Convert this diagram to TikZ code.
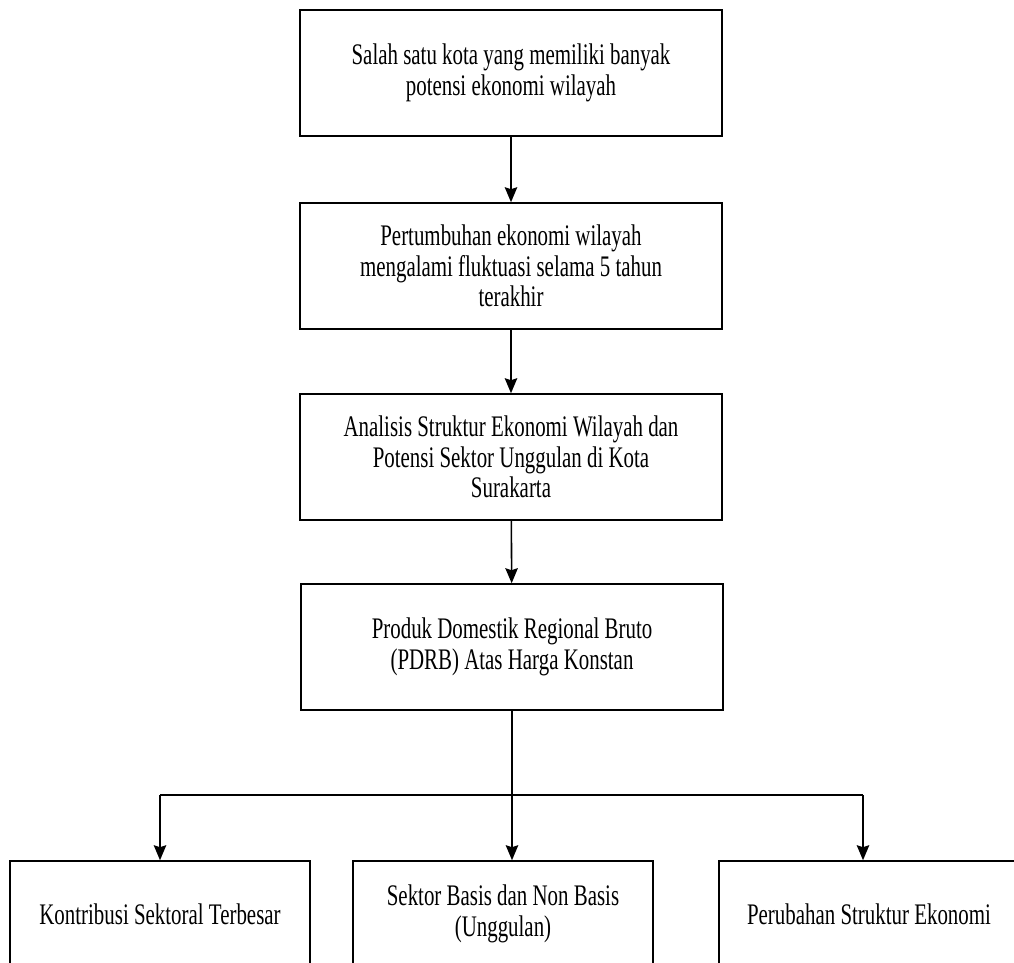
\documentclass[tikz,border=0pt]{standalone}
\usepackage{fontspec}
\setmainfont{Liberation Serif}[FakeStretch=0.7]
\usepackage{tikz}
\usetikzlibrary{arrows.meta}

\begin{document}
\begin{tikzpicture}[x=0.02cm, y=-0.02cm,
  kotak/.style={draw, line width=0.9pt, align=center, inner sep=0pt,
    font=\fontsize{17}{17.5}\selectfont},
  kotakatas/.style={kotak, minimum width=8.44cm, minimum height=2.52cm},
  kotakbawah/.style={kotak, minimum width=6cm, minimum height=2.12cm},
  garis/.style={line width=0.9pt},
  alur/.style={garis, -{Stealth[length=0.3cm,width=0.25cm,inset=0.04cm]}}]
\useasboundingbox (0,0) rectangle (1014,963);
\node [kotakatas] (potensi) at (511,73) {Salah satu kota yang memiliki banyak\\potensi ekonomi wilayah};
\node [kotakatas] (tumbuh) at (511,266) {Pertumbuhan ekonomi wilayah\\mengalami fluktuasi selama 5 tahun\\terakhir};
\node [kotakatas] (analisis) at (511,457) {Analisis Struktur Ekonomi Wilayah dan\\Potensi Sektor Unggulan di Kota\\Surakarta};
\node [kotakatas] (pdrb) at (512,647) {Produk Domestik Regional Bruto\\(PDRB) Atas Harga Konstan};
\node [kotakbawah] (kontribusi) at (160,914) {Kontribusi Sektoral Terbesar};
\node [kotakbawah] (basis) at (503,914) {Sektor Basis dan Non Basis\\(Unggulan)};
\node [kotakbawah] (perubahan) at (869,914) {Perubahan Struktur Ekonomi};
\draw [alur] (potensi) -- (tumbuh);
\draw [alur] (tumbuh) -- (analisis);
\draw [alur] (analisis) -- (pdrb);
\coordinate (cabang) at (512,795);
\coordinate (kiri) at (160,795);
\coordinate (kanan) at (863,795);
\draw [garis] (pdrb.south) -- (cabang);
\draw [garis] (kiri) -- (kanan);
\draw [alur] (kiri) -- (kiri |- kontribusi.north);
\draw [alur] (cabang) -- (cabang |- basis.north);
\draw [alur] (kanan) -- (kanan |- perubahan.north);
\end{tikzpicture}
\end{document}
